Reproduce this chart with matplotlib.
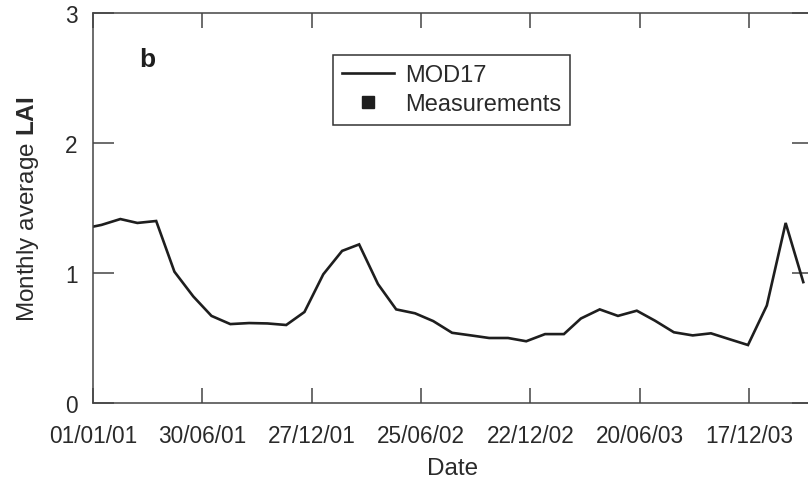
import numpy as np
import pandas as pd
import matplotlib
matplotlib.use("Agg")
import matplotlib.pyplot as plt
from matplotlib.lines import Line2D

plt.rcParams['font.family'] = ['Liberation Sans', 'DejaVu Sans']
plt.rcParams['mathtext.fontset'] = 'custom'
plt.rcParams['mathtext.rm'] = 'Liberation Sans'
plt.rcParams['mathtext.bf'] = 'Liberation Sans:bold'

# monthly MOD17 LAI, mid-month values Dec 2000 .. Mar 2004
lai = [1.34,
       1.37, 1.415, 1.385, 1.40, 1.01, 0.82, 0.67, 0.607, 0.615, 0.612, 0.60, 0.70,
       0.99, 1.17, 1.22, 0.915, 0.72, 0.69, 0.63, 0.54, 0.52, 0.50, 0.50, 0.475,
       0.53, 0.53, 0.65, 0.72, 0.67, 0.71, 0.633, 0.544, 0.52, 0.536, 0.49, 0.446,
       0.75, 1.385, 0.93]
dates = pd.date_range('2000-12-01', periods=len(lai), freq='MS') + pd.Timedelta(days=14)

tick_dates = pd.to_datetime(['2001-01-01', '2001-06-30', '2001-12-27', '2002-06-25',
                             '2002-12-22', '2003-06-20', '2003-12-17'])
tick_labels = ['01/01/01', '30/06/01', '27/12/01', '25/06/02',
               '22/12/02', '20/06/03', '17/12/03']
y_ticks = [0, 1, 2, 3]

ink = '#2a2a2a'
fig = plt.figure(figsize=(8.08, 4.81), dpi=100)
ax = fig.add_axes([93/808, 77/481, 720/808, 390/481])

ax.plot(dates, lai, color='#1e1e1e', lw=1.9, solid_joinstyle='miter')

ax.set_xlim(pd.Timestamp('2001-01-01'), pd.Timestamp('2001-01-01') + pd.Timedelta(days=1185))
ax.set_ylim(0, 3)
ax.set_xticks(tick_dates)
ax.set_xticklabels(tick_labels)
ax.set_yticks(y_ticks)

for s in ax.spines.values():
    s.set_color('#444444')
    s.set_linewidth(1.1)
ax.tick_params(axis='x', direction='in', length=11, width=1.1, color='#444444',
               top=True, labelsize=16.3, labelcolor=ink, pad=15)
ax.tick_params(axis='y', direction='in', length=15, width=1.1, color='#444444',
               right=True, labelsize=16.3, labelcolor=ink, pad=11)

ax.set_xlabel('Date', fontsize=17.5, color=ink, labelpad=7.5)
ax.set_ylabel(r'Monthly average $\mathbf{LAI}$', fontsize=17.5, color=ink, labelpad=17)
ax.text(0.076, 0.882, 'b', transform=ax.transAxes, fontsize=19, fontweight='bold',
        ha='center', va='center', color='#1e1e1e')

handles = [Line2D([], [], color='#1e1e1e', lw=1.9),
           Line2D([], [], color='#1e1e1e', ls='none', marker='s', markersize=8)]
leg = ax.legend(handles, ['MOD17', 'Measurements'], loc='upper left',
                bbox_to_anchor=(0.333, 0.893), borderaxespad=0, fancybox=False,
                fontsize=17, handlelength=2.2, handletextpad=0.45,
                labelspacing=0.3, borderpad=0.4, framealpha=1)
leg.get_frame().set_edgecolor('#333333')
leg.get_frame().set_linewidth(1.1)
for t in leg.get_texts():
    t.set_color(ink)

fig.savefig('out.png', dpi=100)
